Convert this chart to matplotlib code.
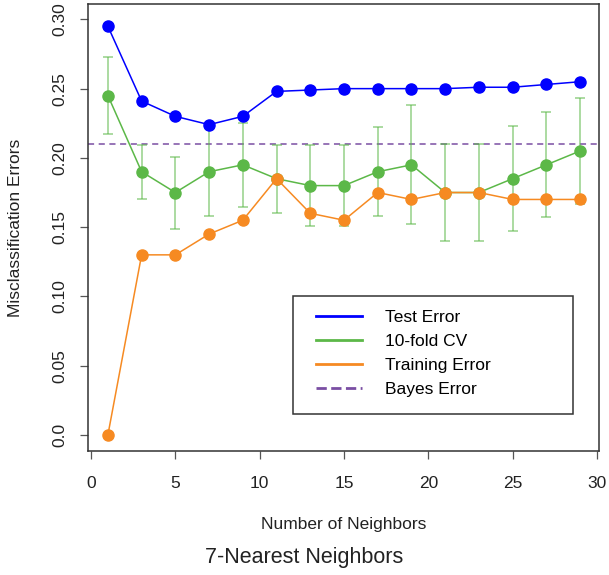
import matplotlib
matplotlib.use('Agg')
import matplotlib.pyplot as plt
from matplotlib.patches import Rectangle

plt.rcParams['font.family'] = ['Liberation Sans', 'DejaVu Sans']

# === dati ===
neighbors = [1, 3, 5, 7, 9, 11, 13, 15, 17, 19, 21, 23, 25, 27, 29]
test_error = [0.295, 0.241, 0.230, 0.224, 0.230, 0.248, 0.249, 0.250,
              0.250, 0.250, 0.250, 0.251, 0.251, 0.253, 0.255]
cv_error = [0.245, 0.190, 0.175, 0.190, 0.195, 0.185, 0.180, 0.180,
            0.190, 0.195, 0.175, 0.175, 0.185, 0.195, 0.205]
cv_se = [0.0275, 0.0195, 0.026, 0.032, 0.0305, 0.0245, 0.029, 0.029,
         0.032, 0.043, 0.035, 0.035, 0.038, 0.038, 0.038]
train_error = [0.0, 0.130, 0.130, 0.145, 0.155, 0.185, 0.160, 0.155,
               0.175, 0.170, 0.175, 0.175, 0.170, 0.170, 0.170]
bayes_error = 0.21

y_ticks = [0.0, 0.05, 0.10, 0.15, 0.20, 0.25, 0.30]
y_tick_labels = ['0.0', '0.05', '0.10', '0.15', '0.20', '0.25', '0.30']
x_ticks = [0, 5, 10, 15, 20, 25, 30]

BLUE = '#0000ff'
GREEN = '#5cb848'
ORANGE = '#f68a22'
PURPLE = '#7a4ea3'
FS = 12.5

fig = plt.figure(figsize=(6.09, 5.75), dpi=100)
W, H = 609, 575
ax = fig.add_axes([88 / W, 1 - 451 / H, 511 / W, 447 / H])

# barre di errore CV
ax.errorbar(neighbors, cv_error, yerr=cv_se, fmt='none', ecolor=GREEN,
            alpha=0.6, elinewidth=1.2, capsize=3.6, capthick=1.2, zorder=2)

ax.axhline(bayes_error, color=PURPLE, linestyle=(0, (4, 3)), linewidth=1.1,
           zorder=1, label='Bayes Error')
ax.plot(neighbors, test_error, color=BLUE, linewidth=1.1, marker='o',
        markersize=8, zorder=4, label='Test Error')
ax.plot(neighbors, cv_error, color=GREEN, linewidth=1.1, marker='o',
        markersize=8, zorder=3, label='10-fold CV')
ax.plot(neighbors, train_error, color=ORANGE, linewidth=1.1, marker='o',
        markersize=8, zorder=3, label='Training Error')

ax.set_xlim(-0.18, 30.12)
ax.set_ylim(-0.0116, 0.3111)
ax.set_xticks(x_ticks)
ax.set_yticks(y_ticks)
ax.set_yticklabels(y_tick_labels, rotation=90, va='center')

for sp in ax.spines.values():
    sp.set_color('#333333')
    sp.set_linewidth(1.1)
ax.tick_params(axis='both', direction='out', length=5.8, width=0.9,
               color='#555555', labelsize=FS, labelcolor='#222222')
ax.tick_params(axis='x', pad=12)
ax.tick_params(axis='y', pad=9)

ax.set_xlabel('Number of Neighbors', fontsize=FS, color='#222222')
ax.xaxis.set_label_coords(0.5, (451 - 525) / 447)
ax.xaxis.label.set_va('center')
ax.set_ylabel('Misclassification Errors', fontsize=FS, color='#222222')
ax.yaxis.set_label_coords((16 - 88) / 511, 0.5)
ax.yaxis.label.set_va('center')
fig.suptitle('7-Nearest Neighbors', y=1 - 557 / H, va='center',
             fontsize=15.5, color='#222222')

# legenda
handles, labels = ax.get_legend_handles_labels()
order = [1, 2, 3, 0]
leg_lines = []
for i in order:
    h = handles[i]
    leg_lines.append(plt.Line2D([], [], color=h.get_color(),
                                linestyle=h.get_linestyle(), linewidth=2))
ax.legend(leg_lines, [labels[i] for i in order], loc='upper left',
          bbox_to_anchor=((316 - 88) / 511, (451 - 310) / 447),
          frameon=False, fontsize=FS, borderpad=0, borderaxespad=0,
          handlelength=2.65, handletextpad=1.3, labelspacing=0.5)
ax.add_patch(Rectangle(((293 - 88) / 511, (451 - 414) / 447),
                       (573 - 293) / 511, (414 - 296) / 447,
                       transform=ax.transAxes, fill=False,
                       edgecolor='#333333', linewidth=1.1, zorder=5))

plt.savefig('out.png', dpi=100)
